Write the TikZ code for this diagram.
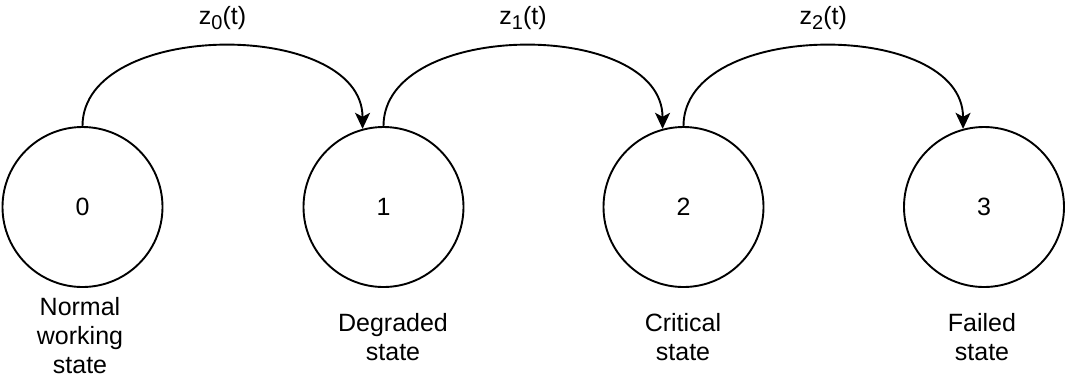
\documentclass[tikz,border=0pt]{standalone}
\usepackage{fontspec}
\setmainfont{Liberation Sans}
\usetikzlibrary{arrows.meta}
\newcommand{\sbs}[1]{\raisebox{-0.22em}{\fontsize{20}{20}\selectfont #1}}
\begin{document}
\begin{tikzpicture}[x=1pt,y=-1pt,
  state/.style={circle,draw,line width=1.9pt,minimum size=160pt,inner sep=0pt,
    font=\fontsize{25}{29}\selectfont},
  lbl/.style={align=center,inner sep=0pt,font=\fontsize{25}{29}\selectfont},
  arr/.style={line width=1.9pt,-{Stealth[length=16pt,width=15pt,inset=4pt]}}]
\useasboundingbox (0,0) rectangle (1066,376);
\node[state] (n0) at (82.5,207) {0};
\node[state] (n1) at (383.5,207) {1};
\node[state] (n2) at (683.5,207) {2};
\node[state] (n3) at (984,207) {3};
\node[lbl] (t0) at (80,336) {Normal\\working\\state};
\node[lbl] (t1) at (393,337) {Degraded\\state};
\node[lbl] (t2) at (683,337) {Critical\\state};
\node[lbl] (t3) at (982,337) {Failed\\state};
\draw[arr] (n0.north) .. controls +(0,-107) and +(0,-110) .. (n1.105)
  node[pos=0.5,lbl,yshift=28pt] (z0) {z\sbs{0}(t)};
\draw[arr] (n1.north) .. controls +(0,-107) and +(0,-110) .. (n2.105)
  node[pos=0.5,lbl,yshift=28pt] (z1) {z\sbs{1}(t)};
\draw[arr] (n2.north) .. controls +(0,-107) and +(0,-110) .. (n3.105)
  node[pos=0.5,lbl,yshift=28pt] (z2) {z\sbs{2}(t)};
\end{tikzpicture}
\end{document}
